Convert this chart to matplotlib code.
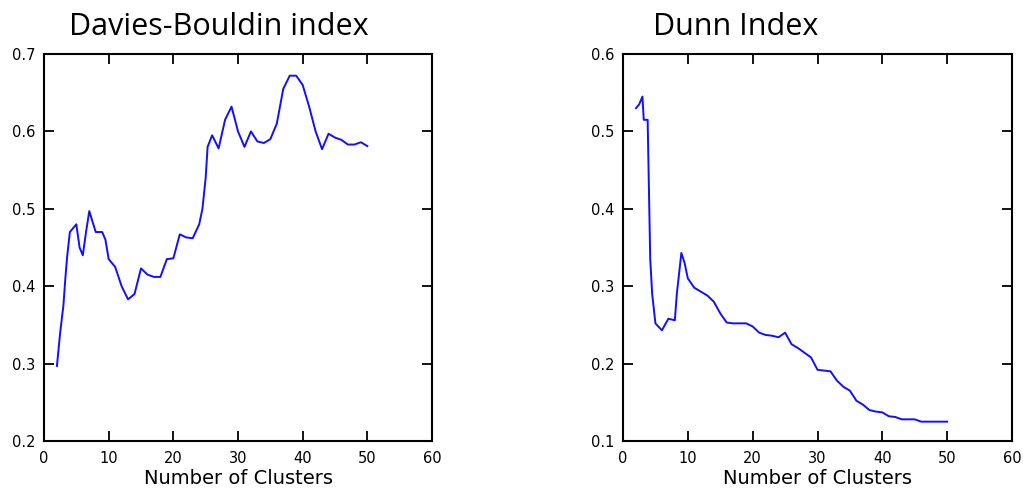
import matplotlib
matplotlib.use("Agg")
import matplotlib.pyplot as plt

# Davies-Bouldin index data
db_k = [2, 2.5, 3, 3.3, 3.6, 4, 5, 5.5, 6, 6.5, 7, 8, 9, 9.5, 10, 11, 12, 13, 14, 15, 16, 17,
        18, 19, 20, 21, 22, 23, 24, 24.5, 25, 25.3, 26, 27, 28, 29, 30, 31, 32, 33, 34, 35,
        36, 37, 38, 39, 40, 41, 42, 43, 44, 45, 46, 47, 48, 49, 50]
db_val = [0.297, 0.34, 0.375, 0.41, 0.44, 0.47, 0.48, 0.45, 0.44, 0.47, 0.497, 0.47, 0.47, 0.46,
          0.435, 0.425, 0.40, 0.383, 0.39, 0.423, 0.415, 0.412, 0.412, 0.435, 0.436, 0.467,
          0.463, 0.462, 0.48, 0.50, 0.54, 0.58, 0.595, 0.578, 0.615, 0.632, 0.60, 0.58, 0.60,
          0.587, 0.585, 0.59, 0.61, 0.655, 0.672, 0.672, 0.66, 0.632, 0.60, 0.577, 0.597,
          0.592, 0.589, 0.583, 0.583, 0.586, 0.581]

# Dunn index data
dunn_k = [2, 2.5, 3, 3.2, 3.8, 4, 4.2, 4.5, 5, 6, 7, 8, 8.3, 8.7, 9, 9.5, 10, 11, 12, 13, 14,
          15, 16, 17, 18, 19, 20, 21, 22, 23, 24, 25, 26, 27, 28, 29, 30, 31, 32, 33, 34, 35,
          36, 37, 38, 39, 40, 41, 42, 43, 44, 45, 46, 47, 48, 49, 50]
dunn_val = [0.53, 0.535, 0.545, 0.515, 0.515, 0.425, 0.335, 0.29, 0.252, 0.243, 0.258, 0.256,
            0.29, 0.32, 0.343, 0.33, 0.31, 0.298, 0.293, 0.288, 0.28, 0.265, 0.253, 0.252,
            0.252, 0.252, 0.248, 0.24, 0.237, 0.236, 0.234, 0.24, 0.225, 0.22, 0.214, 0.208,
            0.192, 0.191, 0.19, 0.178, 0.17, 0.165, 0.152, 0.147, 0.14, 0.138, 0.137, 0.132,
            0.131, 0.128, 0.128, 0.128, 0.125, 0.125, 0.125, 0.125, 0.125]

x_ticks = [0, 10, 20, 30, 40, 50, 60]
db_yticks = [0.2, 0.3, 0.4, 0.5, 0.6, 0.7]
dunn_yticks = [0.1, 0.2, 0.3, 0.4, 0.5, 0.6]
titles = ["Davies-Bouldin index", "Dunn Index"]
xlabel = "Number of Clusters"

W, H = 1023, 495
fig = plt.figure(figsize=(W / 100, H / 100), dpi=100)

ax1 = fig.add_axes([44 / W, 54 / H, 388 / W, 387 / H])
ax2 = fig.add_axes([623 / W, 54 / H, 389 / W, 387 / H])

for ax, xs, ys, yt in [(ax1, db_k, db_val, db_yticks), (ax2, dunn_k, dunn_val, dunn_yticks)]:
    ax.plot(xs, ys, color="#1010ff", lw=1.4)
    ax.set_xlim(0, 60)
    ax.set_ylim(yt[0], yt[-1])
    ax.set_xticks(x_ticks)
    ax.set_yticks(yt)
    ax.set_yticklabels([f"{v:.1f}" for v in yt])
    ax.tick_params(direction="in", length=7, width=1.3, top=True, right=True,
                   labelsize=10.5)
    ax.tick_params(axis="x", pad=7)
    ax.tick_params(axis="y", pad=6)
    for s in ax.spines.values():
        s.set_linewidth(1.5)
    ax.set_xlabel(xlabel, fontsize=14, labelpad=2)

fig.text(219 / W, 1 - 35 / H, titles[0], fontsize=22, family="Open Sans",
         ha="center", va="baseline")
fig.text(736 / W, 1 - 35 / H, titles[1], fontsize=22, family="Open Sans",
         ha="center", va="baseline")

fig.savefig("out.png", dpi=100)
